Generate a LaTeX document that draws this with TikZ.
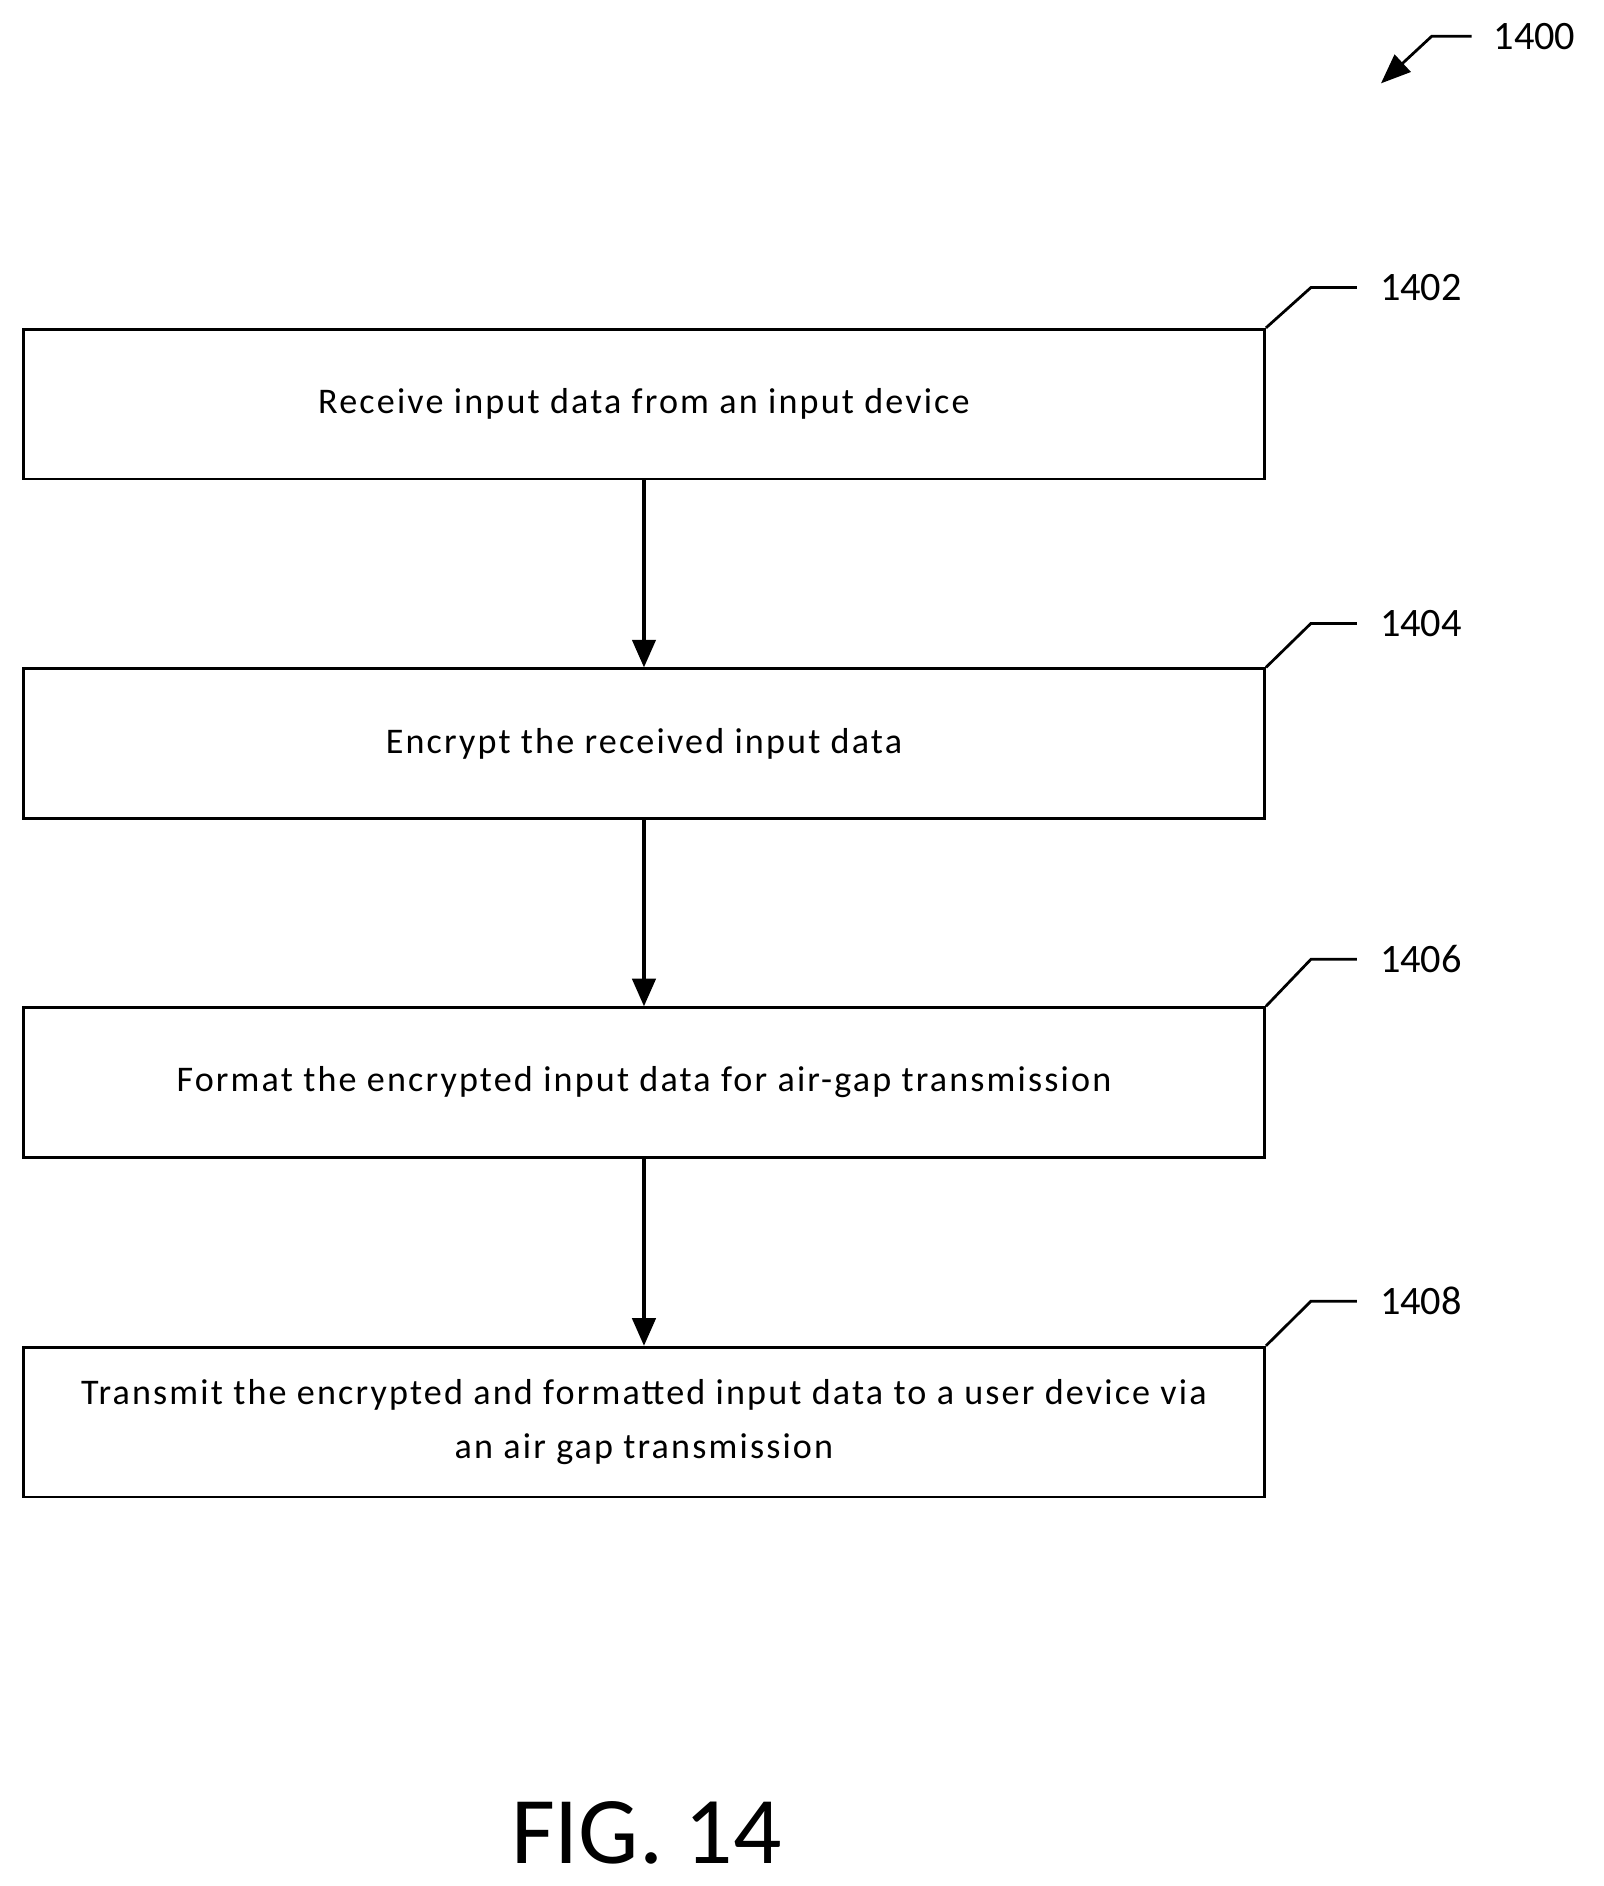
\documentclass[tikz,border=0pt]{standalone}
\usepackage{fontspec}
\setmainfont{Carlito}
\usetikzlibrary{arrows.meta}
\begin{document}
\begin{tikzpicture}[x=0.02cm,y=-0.02cm,
  box/.style={draw,line width=1.3pt,minimum width=20.55cm,minimum height=2.48cm,align=center,font=\fontsize{17}{25}\selectfont\addfontfeatures{LetterSpace=6},inner sep=0pt},
  lead/.style={line width=1.3pt},
  lab/.style={font=\fontsize{19}{22}\selectfont},
  arr/.style={line width=1.6pt,-{Triangle[length=13pt,width=11pt]}}]
\useasboundingbox (0,0) rectangle (1327,1561);
\node[box] (b1) at (533,334.5) {Receive input data from an input device};
\node[box] (b2) at (533,615.5) {Encrypt the received input data};
\node[box] (b3) at (533,896) {Format the encrypted input data for air-gap transmission};
\node[box] (b4) at (533,1177) {Transmit the encrypted and formatted input data to a user device via\\an air gap transmission};
\draw[arr] (b1) -- (b2);
\draw[arr] (b2) -- (b3);
\draw[arr] (b3) -- (b4);
\foreach \b/\t/\n in {b1/238/1402,b2/516/1404,b3/794/1406,b4/1077/1408}{
  \coordinate (m\n) at (1085,\t);
  \coordinate (e\n) at (1123,\t);
  \draw[lead] (\b.north east) -- (m\n) -- (e\n);
  \node[lab,anchor=west] (l\n) at (1136,\t) {\n};
}
\coordinate (t0) at (1218,30);
\coordinate (t1) at (1185,30);
\coordinate (t2) at (1143,69);
\draw[lead,-{Triangle[length=14pt,width=11pt]}] (t0) -- (t1) -- (t2);
\node[lab,anchor=west] (l1400) at (1230,30) {1400};
\node[font=\fontsize{45}{50}\selectfont] (fig) at (535,1517) {FIG. 14};
\end{tikzpicture}
\end{document}
